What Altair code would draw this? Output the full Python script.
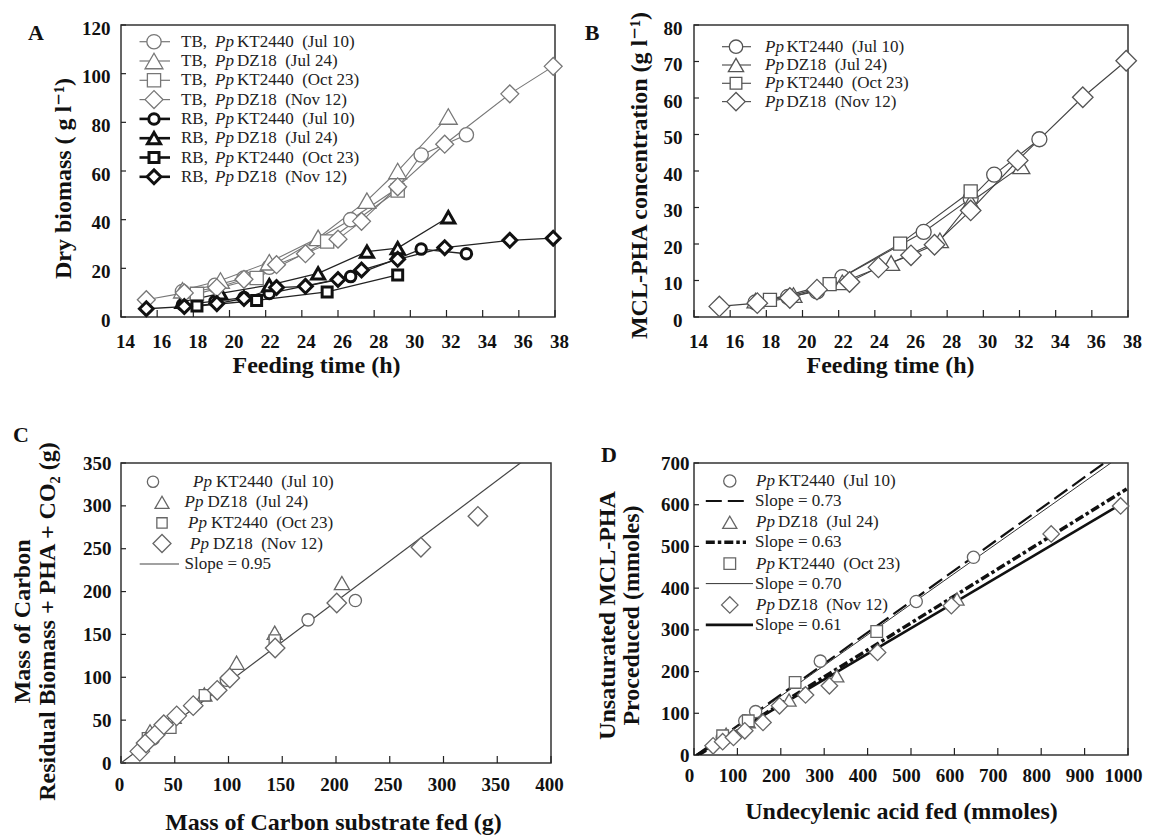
import altair as alt
import pandas as pd

FONT = "Liberation Serif, Times New Roman, DejaVu Serif, serif"

# ---------------- shared series descriptors ----------------
strains = ["KT2440", "DZ18", "KT2440", "DZ18"]
dates = ["(Jul 10)", "(Jul 24)", "(Oct 23)", "(Nov 12)"]

# ---------------- Panel A / B : feeding time courses ----------------
t_jul10 = [17.4, 19.2, 20.8, 22.2, 26.7, 29.3, 30.6, 33.1]
t_jul24 = [17.4, 19.5, 22.2, 24.9, 27.6, 29.3, 32.1]
t_oct23 = [18.2, 21.5, 25.4, 29.3]
t_nov12 = [15.4, 17.5, 19.3, 20.8, 22.6, 24.2, 26.0, 27.3, 29.3, 31.9, 35.5, 37.9]

tb_jul10 = [10.5, 13.0, 16.0, 20.5, 40.0, 53.0, 66.6, 74.9]
tb_jul24 = [11.0, 15.0, 22.5, 32.5, 47.8, 60.0, 82.4]
tb_oct23 = [9.5, 16.0, 31.0, 52.0]
tb_nov12 = [7.1, 9.9, 12.0, 15.5, 21.5, 26.0, 32.0, 39.3, 53.5, 71.0, 91.7, 103.0]

rb_jul10 = [5.0, 6.5, 8.0, 9.7, 16.6, 24.0, 27.9, 26.0]
rb_jul24 = [6.2, 9.7, 13.1, 17.9, 26.9, 28.3, 41.0]
rb_oct23 = [4.5, 6.8, 10.3, 17.3]
rb_nov12 = [3.4, 4.3, 5.5, 7.6, 12.1, 12.6, 15.4, 19.3, 23.7, 28.5, 31.5, 32.4]

pha_jul10 = [4.0, 5.5, 7.0, 10.9, 23.3, 32.5, 39.0, 48.7]
pha_jul24 = [4.5, 6.0, 9.5, 14.8, 21.0, 31.5, 41.3]
pha_oct23 = [4.7, 9.0, 20.1, 34.4]
pha_nov12 = [2.9, 3.8, 5.2, 7.5, 9.6, 13.6, 16.9, 19.8, 29.2, 42.9, 60.2, 70.2]

times = [t_jul10, t_jul24, t_oct23, t_nov12]
tb = [tb_jul10, tb_jul24, tb_oct23, tb_nov12]
rb = [rb_jul10, rb_jul24, rb_oct23, rb_nov12]
pha = [pha_jul10, pha_jul24, pha_oct23, pha_nov12]

# ---------------- Panel C : carbon balance ----------------
c_x = [
    [30, 45, 98, 174, 218],
    [27, 49, 77.5, 107.5, 143, 205.5],
    [25, 46, 78, 143],
    [17.5, 23.3, 31.9, 39.8, 51.8, 67.2, 89.5, 101.2, 143.4, 200.7, 279, 332],
]
c_y = [
    [28, 42, 96.5, 167, 189.5],
    [37, 54, 80, 117, 152, 210],
    [29, 41, 79, 143],
    [13.6, 23.3, 33.1, 44.7, 55, 66.9, 84.8, 99.2, 134.2, 186.7, 251.7, 287.8],
]
c_slope_label = "0.95"
c_fit_slope = 0.942
c_fit_x = [0, 400]

# ---------------- Panel D : unsaturated PHA ----------------
d_x = [
    [65, 117, 142, 291, 512, 644],
    [74, 125, 219, 329, 606],
    [66, 125, 233, 421],
    [44, 66, 91, 117, 159, 197, 257, 312, 423, 593, 823, 983],
]
d_y = [
    [42, 82, 104, 225, 368, 474],
    [50, 80, 132, 190, 374],
    [46, 82, 174, 296],
    [22, 32, 42, 58, 78, 118, 144, 166, 246, 358, 530, 597],
]
d_slope_labels = ["0.73", "0.63", "0.70", "0.61"]
d_fit_slope = [0.745, 0.646, 0.735, 0.615]
d_fit_x0 = [6, 10, 8, 6]
d_fit_x1 = [1000, 997, 1000, 985]

SHAPES = ["circle", "triangle-up", "square", "diamond"]
ONE = pd.DataFrame({"k": [0]})


# ---------------- helpers ----------------
def sym(shape, size, stroke, sw, x, y):
    return alt.Chart(ONE).mark_point(
        shape=shape, size=size, fill="white", stroke=stroke, strokeWidth=sw, opacity=1
    ).encode(x=alt.value(x), y=alt.value(y))


def seg(x1, x2, y, color, sw, dash=None):
    kw = dict(color=color, strokeWidth=sw)
    if dash is not None:
        kw["strokeDash"] = dash
    return alt.Chart(ONE).mark_rule(**kw).encode(
        x=alt.value(x1), x2=alt.value(x2), y=alt.value(y)
    )


def txt(s, x, y, size=17, italic=False, bold=False, align="left", color="#222"):
    return alt.Chart(ONE).mark_text(
        text=s, font=FONT, fontSize=size,
        fontStyle="italic" if italic else "normal",
        fontWeight="bold" if bold else "normal",
        align=align, baseline="middle", color=color,
    ).encode(x=alt.value(x), y=alt.value(y))


def xtick_layer(vals, X, H, L=7):
    return alt.Chart(pd.DataFrame({"x": vals})).mark_rule(
        color="#222", strokeWidth=1.2
    ).encode(x=X, y=alt.value(H), y2=alt.value(H - L))


def ytick_layer(vals, Y, L=5):
    return alt.Chart(pd.DataFrame({"y": vals})).mark_rule(
        color="#222", strokeWidth=1.2
    ).encode(y=Y, x=alt.value(0), x2=alt.value(L))


def line_layer(xv, yv, X, Y, color, sw, dash=None, clip=False):
    kw = dict(color=color, strokeWidth=sw, clip=clip)
    if dash is not None:
        kw["strokeDash"] = dash
    return alt.Chart(pd.DataFrame({"x": xv, "y": yv})).mark_line(**kw).encode(x=X, y=Y)


def point_layer(xv, yv, X, Y, shape, size, stroke, sw):
    return alt.Chart(pd.DataFrame({"x": xv, "y": yv})).mark_point(
        shape=shape, size=size, fill="white", stroke=stroke, strokeWidth=sw, opacity=1
    ).encode(x=X, y=Y)


def xaxis(title, vals, pad, off, tx, ty):
    return alt.Axis(title=title, values=vals, format="d", labelPadding=pad, labelOffset=off,
                    labelOverlap=False, labelFlush=False,
                    titleX=tx, titleY=ty, titleAngle=0, titleAlign="center",
                    titleBaseline="alphabetic")


def yaxis(title, vals, pad, off, tx, ty, baseline="middle", lh=None):
    kw = dict(title=title, values=vals, format="d", labelPadding=pad, labelOffset=off,
              labelOverlap=False, labelFlush=False,
              titleX=tx, titleY=ty, titleAngle=270, titleAlign="center",
              titleBaseline=baseline)
    if lh is not None:
        kw["titleLineHeight"] = lh
    return alt.Axis(**kw)


# ---------------- Panel A ----------------
WA, HA = 434, 292
ax_time = list(range(14, 39, 2))
XA = alt.X("x:Q", scale=alt.Scale(domain=[14, 38], nice=False, zero=False),
           axis=xaxis("Feeding time (h)", ax_time, 15, 4, 195, 55))
YA = alt.Y("y:Q", scale=alt.Scale(domain=[0, 120], nice=False),
           axis=yaxis("Dry biomass ( g l\u207b\u00b9)", list(range(0, 121, 20)), 11, 3, -58, 153))

TB_SIZE = [205, 320, 175, 320]
RB_SIZE = [110, 170, 100, 190]
la = [xtick_layer(ax_time, XA, HA), ytick_layer(list(range(0, 121, 20)), YA)]
for i in range(4):
    la.append(line_layer(times[i], tb[i], XA, YA, "#777", 1.1))
    la.append(line_layer(times[i], rb[i], XA, YA, "#222", 1.3))
for i in range(4):
    la.append(point_layer(times[i], tb[i], XA, YA, SHAPES[i], TB_SIZE[i], "#777", 1.3))
    la.append(point_layer(times[i], rb[i], XA, YA, SHAPES[i], RB_SIZE[i], "#111", 3))
for r in range(8):
    i = r % 4
    y = 16.7 + r * 19.3
    if r < 4:
        la.append(seg(18.5, 49, y, "#777", 1.2))
        la.append(sym(SHAPES[i], TB_SIZE[i], "#777", 1.3, 33, y))
        pre = "TB,"
    else:
        la.append(seg(18.5, 49, y, "#111", 2.6))
        la.append(sym(SHAPES[i], RB_SIZE[i], "#111", 3, 33, y))
        pre = "RB,"
    la.append(txt(pre, 60, y))
    la.append(txt("Pp", 94, y, italic=True))
    la.append(txt(strains[i] + "\u00a0\u00a0" + dates[i], 116, y))
la.append(txt("A", -85, 7.5, size=22, bold=True, align="center", color="#111"))
panelA = alt.layer(*la).properties(width=WA, height=HA)

# ---------------- Panel B ----------------
XB = alt.X("x:Q", scale=alt.Scale(domain=[14, 38], nice=False, zero=False),
           axis=xaxis("Feeding time (h)", ax_time, 15, 4, 196, 55))
YB = alt.Y("y:Q", scale=alt.Scale(domain=[0, 80], nice=False),
           axis=yaxis("MCL-PHA concentration (g l\u207b\u00b9)", list(range(0, 81, 10)), 12, 3, -55, 150))
B_SIZE = [225, 290, 170, 420]
lb = [xtick_layer(ax_time, XB, HA), ytick_layer(list(range(0, 81, 10)), YB)]
for i in range(4):
    lb.append(line_layer(times[i], pha[i], XB, YB, "#444", 1.1))
for i in range(4):
    lb.append(point_layer(times[i], pha[i], XB, YB, SHAPES[i], B_SIZE[i], "#555", 1.3))
for i in range(4):
    y = 21.7 + i * 18.3
    lb.append(seg(28, 57, y, "#555", 1.2))
    lb.append(sym(SHAPES[i], B_SIZE[i] * 0.8, "#555", 1.3, 42, y))
    lb.append(txt("Pp", 71, y, italic=True))
    lb.append(txt(strains[i] + "\u00a0\u00a0" + dates[i], 92.5, y))
lb.append(txt("B", -102, 7.5, size=22, bold=True, align="center", color="#111"))
panelB = alt.layer(*lb).properties(width=WA, height=HA)

# ---------------- Panel C ----------------
WC, HC = 430, 300
XC = alt.X("x:Q", scale=alt.Scale(domain=[0, 400], nice=False),
           axis=xaxis("Mass of Carbon substrate fed (g)", list(range(0, 401, 50)), 12, -2, 212, 66))
YC = alt.Y("y:Q", scale=alt.Scale(domain=[0, 350], nice=False),
           axis=yaxis(["Mass of Carbon", "Residual Biomass + PHA + CO\u2082 (g)"],
                      list(range(0, 351, 50)), 10, 0, -111, 158, baseline="top", lh=25))
C_SIZE = [150, 230, 125, 380]
lc = [xtick_layer(list(range(0, 401, 50)), XC, HC), ytick_layer(list(range(0, 351, 50)), YC)]
lc.append(line_layer(c_fit_x, [c_fit_slope * v for v in c_fit_x], XC, YC, "#444", 1.2, clip=True))
for i in range(4):
    lc.append(point_layer(c_x[i], c_y[i], XC, YC, SHAPES[i], C_SIZE[i], "#666", 1.3))
c_sym_x = [32, 41, 41, 41]
c_txt_x = [72, 63.5, 67, 69]
for i in range(4):
    y = 18.7 + i * 20.6
    lc.append(sym(SHAPES[i], C_SIZE[i] * 0.85, "#666", 1.3, c_sym_x[i], y))
    lc.append(txt("Pp", c_txt_x[i], y, italic=True))
    lc.append(txt(strains[i] + "\u00a0\u00a0" + dates[i], c_txt_x[i] + 23, y))
lc.append(seg(18.7, 58, 101, "#444", 1.2))
lc.append(txt("Slope = " + c_slope_label, 63.5, 101))
lc.append(txt("C", -100, -28.5, size=22, bold=True, align="center", color="#111"))
panelC = alt.layer(*lc).properties(width=WC, height=HC)

# ---------------- Panel D ----------------
WD, HD = 434, 292
XD = alt.X("x:Q", scale=alt.Scale(domain=[0, 1000], nice=False),
           axis=xaxis("Undecylenic acid fed (mmoles)", list(range(0, 1001, 100)), 11, -5, 207, 63))
YD = alt.Y("y:Q", scale=alt.Scale(domain=[0, 700], nice=False),
           axis=yaxis(["Unsaturated MCL-PHA", "Proceduced (mmoles)"],
                      list(range(0, 701, 100)), 5, 0, -99, 152, baseline="top", lh=24))
D_SIZE = [150, 200, 135, 270]
D_STYLE = [
    dict(color="#111", sw=2.2, dash=[16, 6]),
    dict(color="#111", sw=3.5, dash=[9, 3, 3.5, 3]),
    dict(color="#333", sw=1.0, dash=None),
    dict(color="#111", sw=2.6, dash=None),
]
ld = [xtick_layer(list(range(0, 1001, 100)), XD, HD), ytick_layer(list(range(0, 701, 100)), YD)]
for i in range(4):
    xs = [d_fit_x0[i], d_fit_x1[i]]
    ys = [d_fit_slope[i] * (v - d_fit_x0[i]) for v in xs]
    st = D_STYLE[i]
    ld.append(line_layer(xs, ys, XD, YD, st["color"], st["sw"], dash=st["dash"], clip=True))
for i in range(4):
    ld.append(point_layer(d_x[i], d_y[i], XD, YD, SHAPES[i], D_SIZE[i], "#666", 1.3))
for i in range(4):
    ys_ = 18 + i * 41.3
    yl = ys_ + 20
    st = D_STYLE[i]
    ld.append(sym(SHAPES[i], D_SIZE[i], "#666", 1.3, 35.8, ys_))
    ld.append(txt("Pp", 62, ys_, italic=True))
    ld.append(txt(strains[i] + "\u00a0\u00a0" + dates[i], 84, ys_))
    ld.append(seg(11.8, 59 if st["dash"] is None else 52, yl, st["color"], st["sw"], dash=st["dash"]))
    ld.append(txt("Slope = " + d_slope_labels[i], 61, yl))
ld.append(txt("D", -85, -8.5, size=22, bold=True, align="center", color="#111"))
panelD = alt.layer(*ld).properties(width=WD, height=HD)

chart = alt.concat(
    panelA, panelB, panelC, panelD,
    columns=2, spacing={"row": 146, "column": 139}, bounds="flush",
).properties(
    padding={"left": 1, "top": 2, "right": 0, "bottom": 0},
    background="white",
).configure_view(
    stroke="#333", strokeWidth=1.5
).configure_axis(
    grid=False, domain=False, ticks=False,
    labelFont=FONT, labelFontSize=19, labelFontWeight="bold", labelColor="#111",
    titleFont=FONT, titleFontSize=24, titleFontWeight="bold", titleColor="#111",
)

chart.save("out.html", embed_options={"renderer": "svg", "actions": False})
